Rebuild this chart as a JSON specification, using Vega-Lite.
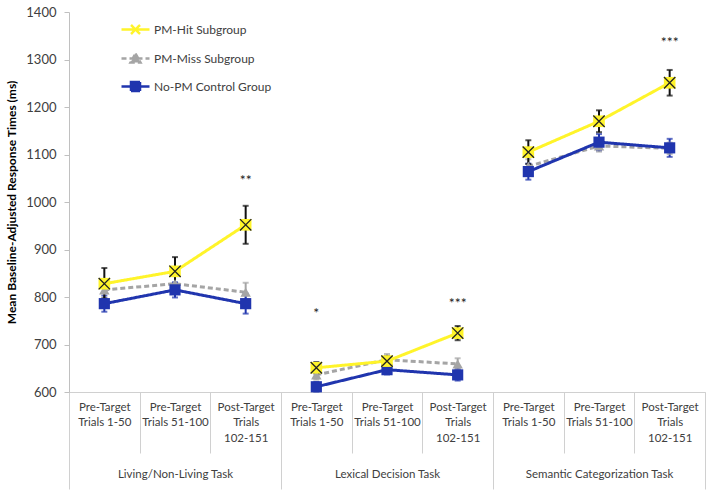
{
  "$schema": "https://vega.github.io/schema/vega-lite/v6.json",
  "width": 714,
  "height": 492,
  "autosize": {"type": "fit", "contains": "padding"},
  "padding": {"left": 5, "right": 8, "top": 6, "bottom": 2},
  "background": "white",
  "config": {
    "view": {"stroke": null},
    "font": "Lato",
    "axis": {"labelFont": "Lato", "titleFont": "Lato", "labelColor": "#404040", "grid": false}
  },
  "datasets": {
    "series": [
      {"task": "Living/Non-Living Task", "key": "Living/Non-Living Task|Pre-Target~Trials 1-50", "group": "PM-Miss Subgroup", "mean": 815, "lo": 797, "hi": 833},
      {"task": "Living/Non-Living Task", "key": "Living/Non-Living Task|Pre-Target~Trials 51-100", "group": "PM-Miss Subgroup", "mean": 828, "lo": 812, "hi": 844},
      {"task": "Living/Non-Living Task", "key": "Living/Non-Living Task|Post-Target~Trials~102-151", "group": "PM-Miss Subgroup", "mean": 810, "lo": 790, "hi": 830},
      {"task": "Lexical Decision Task", "key": "Lexical Decision Task|Pre-Target~Trials 1-50", "group": "PM-Miss Subgroup", "mean": 636, "lo": 626, "hi": 646},
      {"task": "Lexical Decision Task", "key": "Lexical Decision Task|Pre-Target~Trials 51-100", "group": "PM-Miss Subgroup", "mean": 668, "lo": 656, "hi": 680},
      {"task": "Lexical Decision Task", "key": "Lexical Decision Task|Post-Target~Trials~102-151", "group": "PM-Miss Subgroup", "mean": 659, "lo": 647, "hi": 671},
      {"task": "Semantic Categorization Task", "key": "Semantic Categorization Task|Pre-Target~Trials 1-50", "group": "PM-Miss Subgroup", "mean": 1075, "lo": 1060, "hi": 1090},
      {"task": "Semantic Categorization Task", "key": "Semantic Categorization Task|Pre-Target~Trials 51-100", "group": "PM-Miss Subgroup", "mean": 1118, "lo": 1106, "hi": 1130},
      {"task": "Semantic Categorization Task", "key": "Semantic Categorization Task|Post-Target~Trials~102-151", "group": "PM-Miss Subgroup", "mean": 1113, "lo": 1101, "hi": 1125},
      {"task": "Living/Non-Living Task", "key": "Living/Non-Living Task|Pre-Target~Trials 1-50", "group": "No-PM Control Group", "mean": 786, "lo": 769, "hi": 803},
      {"task": "Living/Non-Living Task", "key": "Living/Non-Living Task|Pre-Target~Trials 51-100", "group": "No-PM Control Group", "mean": 815, "lo": 799, "hi": 831},
      {"task": "Living/Non-Living Task", "key": "Living/Non-Living Task|Post-Target~Trials~102-151", "group": "No-PM Control Group", "mean": 786, "lo": 765, "hi": 807},
      {"task": "Lexical Decision Task", "key": "Lexical Decision Task|Pre-Target~Trials 1-50", "group": "No-PM Control Group", "mean": 611, "lo": 601, "hi": 621},
      {"task": "Lexical Decision Task", "key": "Lexical Decision Task|Pre-Target~Trials 51-100", "group": "No-PM Control Group", "mean": 647, "lo": 637, "hi": 657},
      {"task": "Lexical Decision Task", "key": "Lexical Decision Task|Post-Target~Trials~102-151", "group": "No-PM Control Group", "mean": 636, "lo": 624, "hi": 648},
      {"task": "Semantic Categorization Task", "key": "Semantic Categorization Task|Pre-Target~Trials 1-50", "group": "No-PM Control Group", "mean": 1064, "lo": 1047, "hi": 1081},
      {"task": "Semantic Categorization Task", "key": "Semantic Categorization Task|Pre-Target~Trials 51-100", "group": "No-PM Control Group", "mean": 1126, "lo": 1109, "hi": 1143},
      {"task": "Semantic Categorization Task", "key": "Semantic Categorization Task|Post-Target~Trials~102-151", "group": "No-PM Control Group", "mean": 1114, "lo": 1095, "hi": 1133},
      {"task": "Living/Non-Living Task", "key": "Living/Non-Living Task|Pre-Target~Trials 1-50", "group": "PM-Hit Subgroup", "mean": 828, "lo": 797, "hi": 861},
      {"task": "Living/Non-Living Task", "key": "Living/Non-Living Task|Pre-Target~Trials 51-100", "group": "PM-Hit Subgroup", "mean": 854, "lo": 825, "hi": 884},
      {"task": "Living/Non-Living Task", "key": "Living/Non-Living Task|Post-Target~Trials~102-151", "group": "PM-Hit Subgroup", "mean": 952, "lo": 912, "hi": 992},
      {"task": "Lexical Decision Task", "key": "Lexical Decision Task|Pre-Target~Trials 1-50", "group": "PM-Hit Subgroup", "mean": 651, "lo": 639, "hi": 663},
      {"task": "Lexical Decision Task", "key": "Lexical Decision Task|Pre-Target~Trials 51-100", "group": "PM-Hit Subgroup", "mean": 665, "lo": 655, "hi": 675},
      {"task": "Lexical Decision Task", "key": "Lexical Decision Task|Post-Target~Trials~102-151", "group": "PM-Hit Subgroup", "mean": 724, "lo": 709, "hi": 739},
      {"task": "Semantic Categorization Task", "key": "Semantic Categorization Task|Pre-Target~Trials 1-50", "group": "PM-Hit Subgroup", "mean": 1105, "lo": 1080, "hi": 1130},
      {"task": "Semantic Categorization Task", "key": "Semantic Categorization Task|Pre-Target~Trials 51-100", "group": "PM-Hit Subgroup", "mean": 1170, "lo": 1147, "hi": 1193},
      {"task": "Semantic Categorization Task", "key": "Semantic Categorization Task|Post-Target~Trials~102-151", "group": "PM-Hit Subgroup", "mean": 1251, "lo": 1224, "hi": 1278}
    ],
    "stars": [
      {"key": "Living/Non-Living Task|Post-Target~Trials~102-151", "sig": "**", "y": 1045},
      {"key": "Lexical Decision Task|Pre-Target~Trials 1-50", "sig": "*", "y": 765},
      {"key": "Lexical Decision Task|Post-Target~Trials~102-151", "sig": "***", "y": 786},
      {"key": "Semantic Categorization Task|Post-Target~Trials~102-151", "sig": "***", "y": 1334}
    ],
    "tasks": [
      {"task": "Living/Non-Living Task"},
      {"task": "Lexical Decision Task"},
      {"task": "Semantic Categorization Task"}
    ]
  },
  "resolve": {"scale": {"x": "independent"}, "axis": {"x": "independent"}},
  "layer": [
    {
      "data": {"name": "series"},
      "encoding": {
        "x": {
          "field": "key", "type": "nominal", "bandPosition": 0.5,
          "scale": {"type": "band", "paddingInner": 0, "paddingOuter": 0, "domain": [
            "Living/Non-Living Task|Pre-Target~Trials 1-50",
            "Living/Non-Living Task|Pre-Target~Trials 51-100",
            "Living/Non-Living Task|Post-Target~Trials~102-151",
            "Lexical Decision Task|Pre-Target~Trials 1-50",
            "Lexical Decision Task|Pre-Target~Trials 51-100",
            "Lexical Decision Task|Post-Target~Trials~102-151",
            "Semantic Categorization Task|Pre-Target~Trials 1-50",
            "Semantic Categorization Task|Pre-Target~Trials 51-100",
            "Semantic Categorization Task|Post-Target~Trials~102-151"
          ]},
          "axis": {
            "orient": "bottom",
            "title": null, "labelAngle": 0, "labelExpr": "datum.value ? split(split(datum.value, '|')[1], '~') : ''",
            "tickBand": "extent", "tickSize": 61, "tickColor": "#d0d0d0", "tickWidth": 1,
            "domainColor": "#d0d0d0", "labelPadding": -52, "labelFontSize": 11.5,
            "labelLineHeight": 15.5, "labelBaseline": "top", "labelAlign": "center",
            "labelOverlap": false, "labelBound": false, "labelFlush": false
          }
        },
        "y": {
          "field": "mean", "type": "quantitative",
          "scale": {"domain": [600, 1400], "nice": false, "zero": false},
          "axis": {
            "title": "Mean Baseline-Adjusted Response Times (ms)", "titleFontWeight": "bold",
            "titleFontSize": 12, "titleColor": "#000000", "titlePadding": 7,
            "values": [600, 700, 800, 900, 1000, 1100, 1200, 1300, 1400], "format": "d",
            "labelFontSize": 13, "labelPadding": 8, "tickSize": 5,
            "tickColor": "#c0c0c0", "domainColor": "#c0c0c0"
          }
        },
        "color": {
          "field": "group", "type": "nominal",
          "scale": {"domain": ["PM-Hit Subgroup", "PM-Miss Subgroup", "No-PM Control Group"], "range": ["#FFF42A", "#A5A5A5", "#2035AE"]},
          "legend": {
            "title": null, "orient": "none", "legendX": 60, "legendY": 11,
            "symbolSize": 100, "symbolStrokeWidth": 2.5, "symbolOpacity": 1, "labelOffset": 12, "rowPadding": 9,
            "labelFontSize": 12, "labelColor": "#404040", "labelFont": "Lato"
          }
        }
      },
      "layer": [
        {
          "mark": {"type": "line", "strokeWidth": 3},
          "encoding": {
            "detail": {"field": "task"},
            "strokeDash": {
              "field": "group", "type": "nominal",
              "scale": {"domain": ["PM-Hit Subgroup", "PM-Miss Subgroup", "No-PM Control Group"], "range": [[1, 0], [5, 3], [1, 0]]}
            }
          }
        },
        {
          "transform": [{"filter": "datum.group != 'PM-Hit Subgroup'"}],
          "mark": {"type": "rule", "strokeWidth": 2},
          "encoding": {"y": {"field": "lo", "type": "quantitative"}, "y2": {"field": "hi"}}
        },
        {
          "transform": [{"filter": "datum.group != 'PM-Hit Subgroup'"}],
          "mark": {"type": "tick", "thickness": 2, "size": 6},
          "encoding": {"y": {"field": "hi", "type": "quantitative"}}
        },
        {
          "transform": [{"filter": "datum.group != 'PM-Hit Subgroup'"}],
          "mark": {"type": "tick", "thickness": 2, "size": 6},
          "encoding": {"y": {"field": "lo", "type": "quantitative"}}
        },
        {
          "transform": [{"filter": "datum.group == 'PM-Hit Subgroup'"}],
          "mark": {"type": "rule", "strokeWidth": 2, "color": "#111111"},
          "encoding": {"y": {"field": "lo", "type": "quantitative"}, "y2": {"field": "hi"}, "color": {"value": "#111111"}}
        },
        {
          "transform": [{"filter": "datum.group == 'PM-Hit Subgroup'"}],
          "mark": {"type": "tick", "thickness": 2, "size": 6},
          "encoding": {"y": {"field": "hi", "type": "quantitative"}, "color": {"value": "#111111"}}
        },
        {
          "transform": [{"filter": "datum.group == 'PM-Hit Subgroup'"}],
          "mark": {"type": "tick", "thickness": 2, "size": 6},
          "encoding": {"y": {"field": "lo", "type": "quantitative"}, "color": {"value": "#111111"}}
        },
        {
          "transform": [{"filter": "datum.group == 'PM-Miss Subgroup'"}],
          "mark": {"type": "point", "filled": true, "opacity": 1, "size": 110, "shape": "triangle-up"}
        },
        {
          "transform": [{"filter": "datum.group == 'No-PM Control Group'"}],
          "mark": {"type": "point", "filled": true, "opacity": 1, "size": 125, "shape": "square"}
        },
        {
          "transform": [{"filter": "datum.group == 'PM-Hit Subgroup'"}],
          "mark": {"type": "point", "filled": true, "opacity": 1, "size": 135, "shape": "square"}
        },
        {
          "transform": [{"filter": "datum.group == 'PM-Hit Subgroup'"}],
          "mark": {"type": "point", "filled": false, "shape": "M-1,-1L1,1M-1,1L1,-1", "size": 130, "strokeWidth": 1.3, "opacity": 1},
          "encoding": {"color": {"value": "#222222"}}
        },
        {
          "data": {"name": "stars"},
          "mark": {"type": "text", "fontSize": 14, "baseline": "middle", "align": "center", "color": "#222222", "font": "Lato"},
          "encoding": {
            "y": {"field": "y", "type": "quantitative"},
            "text": {"field": "sig"},
            "color": {"value": "#222222"}
          }
        },
        {
          "transform": [{"filter": "false"}],
          "mark": {"type": "point", "filled": true, "opacity": 1, "strokeWidth": 2.5},
          "encoding": {
            "shape": {
              "field": "group", "type": "nominal",
              "scale": {"domain": ["PM-Hit Subgroup", "PM-Miss Subgroup", "No-PM Control Group"], "range": [
                "M-2.8,0H2.8M-0.9,-0.9L0.9,0.9M-0.9,0.9L0.9,-0.9",
                "M-2.8,0H2.8M0,-1L1,0.8H-1Z",
                "M-2.8,0H2.8M-0.9,-0.9H0.9V0.9H-0.9Z"
              ]}
            },
            "stroke": {
              "field": "group", "type": "nominal",
              "scale": {"domain": ["PM-Hit Subgroup", "PM-Miss Subgroup", "No-PM Control Group"], "range": ["#FFF42A", "#A5A5A5", "#2035AE"]}
            },
            "strokeDash": {"field": "group", "type": "nominal"}
          }
        }
      ]
    },
    {
      "data": {"name": "tasks"},
      "mark": {"type": "rule", "opacity": 0},
      "encoding": {
        "x": {
          "field": "task", "type": "nominal", "bandPosition": 0.5,
          "scale": {"type": "band", "paddingInner": 0, "paddingOuter": 0, "domain": ["Living/Non-Living Task", "Lexical Decision Task", "Semantic Categorization Task"]},
          "axis": {
            "orient": "bottom",
            "title": null, "labelAngle": 0, "tickBand": "extent", "tickSize": 97,
            "tickColor": "#d0d0d0", "domain": false, "labelPadding": -21,
            "labelFontSize": 11.5, "labelBaseline": "top", "labelAlign": "center",
            "labelOverlap": false, "labelBound": false, "labelFlush": false, "labelColor": "#404040"
          }
        }
      }
    }
  ]
}
